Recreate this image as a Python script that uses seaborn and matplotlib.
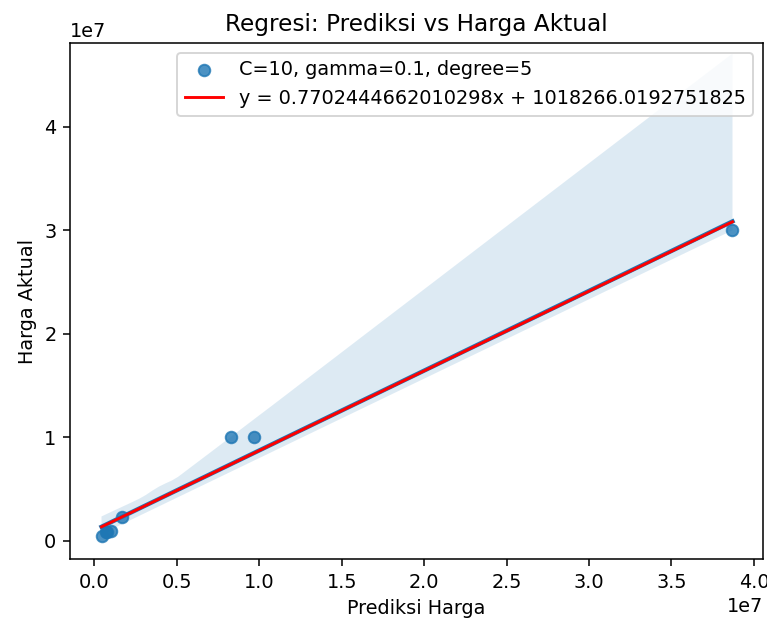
import numpy as np
import pandas as pd
import matplotlib
matplotlib.use("Agg")
import matplotlib.pyplot as plt
import seaborn as sns

# Data
prediksi_harga = [4.4e5, 7.0e5, 8.0e5, 1.0e6, 1.7e6, 8.3e6, 9.7e6, 3.87e7]
harga_aktual = [4.5e5, 9.0e5, 8.5e5, 1.0e6, 2.3e6, 1.0e7, 1.0e7, 3.0e7]
slope = 0.7702444662010298
intercept = 1018266.0192751825
scatter_label = "C=10, gamma=0.1, degree=5"
line_label = f"y = {slope}x + {intercept}"

df = pd.DataFrame({"Prediksi Harga": prediksi_harga, "Harga Aktual": harga_aktual})

dpi = 139
fig = plt.figure(figsize=(767 / dpi, 619 / dpi), dpi=dpi)
ax = fig.add_axes([70 / 767, 1 - 559 / 619, (763 - 70) / 767, (559 - 43) / 619])

sns.regplot(data=df, x="Prediksi Harga", y="Harga Aktual", ax=ax,
            label=scatter_label, seed=42, n_boot=1000)
xs = np.array([min(prediksi_harga), max(prediksi_harga)])
ax.plot(xs, slope * xs + intercept, color="red", label=line_label)

ax.set_xlim(-0.147e7, 4.055e7)
ax.set_ylim(-0.175e7, 4.81e7)
ax.set_title("Regresi: Prediksi vs Harga Aktual")
ax.set_xlabel("Prediksi Harga")
ax.set_ylabel("Harga Aktual")
ax.legend(loc="upper right")

fig.savefig("out.png", dpi=dpi)
